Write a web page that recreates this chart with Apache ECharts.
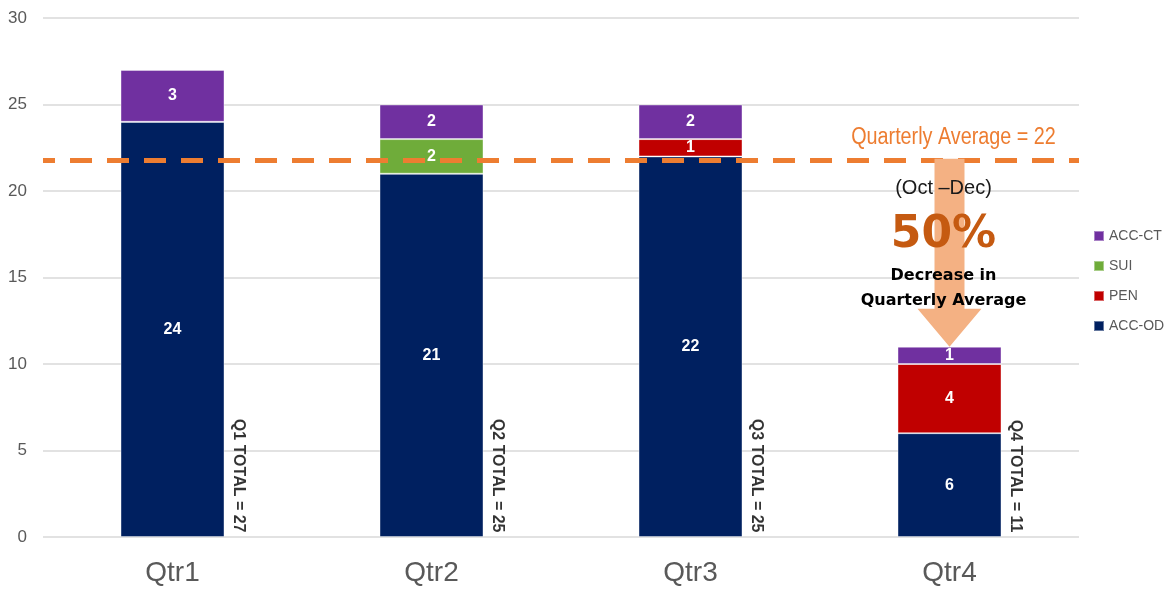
<!DOCTYPE html>
<html>
<head>
<meta charset="utf-8">
<style>
  html, body { margin: 0; padding: 0; background: #fff; }
  #chart { width: 1173px; height: 590px; }
</style>
<script src="https://cdn.jsdelivr.net/npm/echarts@6/dist/echarts.min.js"></script>
</head>
<body>
<div id="chart"></div>
<script>
const categories = ['Qtr1', 'Qtr2', 'Qtr3', 'Qtr4'];
const accOd = [24, 21, 22, 6];
const pen = [0, 0, 1, 4];
const sui = [0, 2, 0, 0];
const accCt = [3, 2, 2, 1];
const yMin = 0, yMax = 30, yStep = 5;
const avgLevel = 21.75; // where the dashed line sits in the picture
const avgText = 'Quarterly Average = 22';

const totals = categories.map((_, i) => accOd[i] + pen[i] + sui[i] + accCt[i]);

const FONT = "'Liberation Sans', Arial, sans-serif";

const valueLabel = {
  show: true,
  color: '#fff',
  fontWeight: 'bold',
  fontSize: 16,
  fontFamily: FONT,
  formatter: p => (p.value ? p.value : '')
};

const barSeries = (name, data, color) => ({
  name,
  type: 'bar',
  stack: 'q',
  barWidth: 104,
  data,
  itemStyle: { color, borderColor: 'rgba(255,255,255,0.4)', borderWidth: 1 },
  label: valueLabel,
  emphasis: { disabled: true }
});

const chart = echarts.init(document.getElementById('chart'), null, { renderer: 'canvas' });

chart.setOption({
  animation: false,
  textStyle: { fontFamily: FONT },
  grid: { left: 43, right: 94, top: 18, bottom: 53, containLabel: false },
  legend: {
    data: ['ACC-CT', 'SUI', 'PEN', 'ACC-OD'],
    orient: 'vertical',
    left: 1088,
    top: 224,
    itemWidth: 10,
    itemHeight: 10,
    itemGap: 16,
    icon: 'rect',
    textStyle: { color: '#595959', fontSize: 14, fontFamily: FONT }
  },
  xAxis: {
    type: 'category',
    data: categories,
    axisLine: { show: false },
    axisTick: { show: false },
    axisLabel: { color: '#595959', fontSize: 28, margin: 22, fontFamily: FONT }
  },
  yAxis: {
    type: 'value',
    min: yMin,
    max: yMax,
    interval: yStep,
    axisLine: { show: false },
    axisTick: { show: false },
    axisLabel: { color: '#595959', fontSize: 17, margin: 16, fontFamily: FONT },
    splitLine: { lineStyle: { color: '#d9d9d9', width: 1.5 } }
  },
  series: [
    barSeries('ACC-OD', accOd, '#002060'),
    barSeries('PEN', pen, '#C00000'),
    barSeries('SUI', sui, '#6FAC3A'),
    barSeries('ACC-CT', accCt, '#7030A0'),
    {
      name: 'totals',
      type: 'scatter',
      z: 5,
      symbolSize: 1,
      itemStyle: { color: 'transparent' },
      data: categories.map(c => [c, 0]),
      label: {
        show: true,
        position: [66, -4],
        rotate: -90,
        align: 'right',
        verticalAlign: 'middle',
        color: '#000',
        fontWeight: 'bold',
        fontSize: 16,
        fontFamily: FONT,
        formatter: p => 'Q' + (p.dataIndex + 1) + ' TOTAL = ' + totals[p.dataIndex]
      },
      markLine: {
        silent: true,
        symbol: 'none',
        label: { show: false },
        lineStyle: { color: '#ED7D31', width: 5, type: [22, 15], dashOffset: 10 },
        data: [{ yAxis: avgLevel }]
      },
      emphasis: { disabled: true }
    }
  ]
});

// arrow + annotation, anchored to the axes
const xc = chart.convertToPixel({ xAxisIndex: 0 }, categories[3]);
const yTop = chart.convertToPixel({ yAxisIndex: 0 }, avgLevel);
const yTip = chart.convertToPixel({ yAxisIndex: 0 }, totals[3]);

const txt = (text, x, y, style, extra) => Object.assign({
  type: 'text',
  z: 110,
  x, y,
  style: Object.assign({ text, align: 'center', verticalAlign: 'middle', fontFamily: FONT }, style)
}, extra || {});

chart.setOption({
  graphic: [
    {
      type: 'polygon',
      z: 100,
      shape: {
        points: [
          [xc - 15, yTop - 2], [xc + 15, yTop - 2], [xc + 15, yTip - 38],
          [xc + 32, yTip - 38], [xc, yTip], [xc - 32, yTip - 38], [xc - 15, yTip - 38]
        ]
      },
      style: { fill: '#F4B183' }
    },
    txt(avgText, xc + 4, yTop - 23, { fill: '#ED7D31', fontSize: 23 }, { scaleX: 0.86 }),
    txt('(Oct –Dec)', xc - 6, yTop + 28, { fill: '#1a1a1a', fontSize: 20 }),
    txt('50%', xc - 6, yTop + 75, {
      fill: '#C55A11', fontSize: 44, fontWeight: 'bold', fontFamily: "'DejaVu Sans', sans-serif"
    }),
    txt('Decrease in', xc - 6, yTop + 115, {
      fill: '#000', fontSize: 16, fontWeight: 'bold', fontFamily: "'DejaVu Sans', sans-serif"
    }),
    txt('Quarterly Average', xc - 6, yTop + 140, {
      fill: '#000', fontSize: 16, fontWeight: 'bold', fontFamily: "'DejaVu Sans', sans-serif"
    })
  ]
});
</script>
</body>
</html>
